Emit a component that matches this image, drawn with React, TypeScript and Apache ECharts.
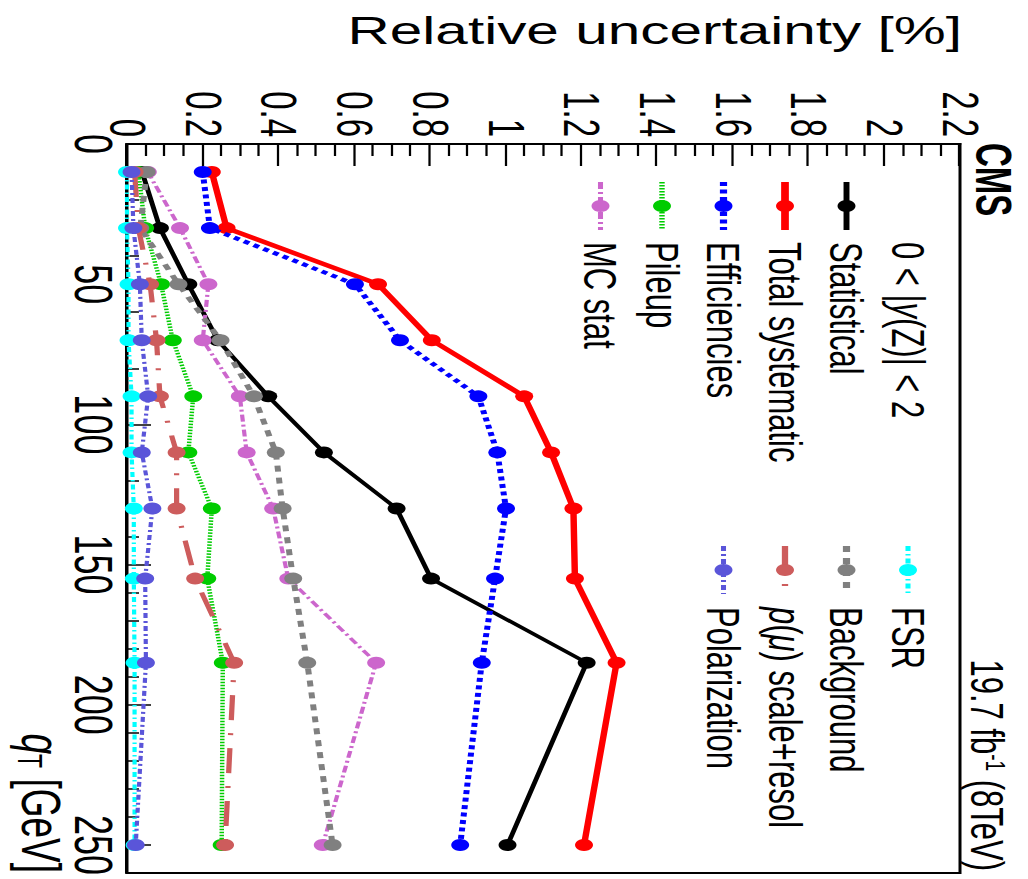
import React, { useEffect, useRef } from 'react';
import * as echarts from 'echarts';

// ---------------- data ----------------
const qT = [10, 30, 50, 70, 90, 110, 130, 155, 185, 250];

const statistical = [0.04, 0.087, 0.162, 0.24, 0.373, 0.52, 0.712, 0.803, 1.214, 1.005];
const totalSystematic = [0.224, 0.263, 0.663, 0.805, 1.049, 1.12, 1.179, 1.183, 1.293, 1.207];
const efficiencies = [0.2, 0.219, 0.602, 0.721, 0.928, 0.978, 1.001, 0.972, 0.937, 0.88];
const pileup = [0.03, 0.048, 0.09, 0.121, 0.175, 0.162, 0.224, 0.212, 0.253, 0.25];
const mcStat = [0.055, 0.14, 0.215, 0.2, 0.298, 0.316, 0.386, 0.426, 0.658, 0.517];
const fsr = [0.0, 0.0, 0.004, 0.004, 0.012, 0.012, 0.018, 0.018, 0.02, 0.02];
const background = [0.052, 0.035, 0.136, 0.247, 0.335, 0.393, 0.411, 0.439, 0.476, 0.543];
const momentumScale = [0.02, 0.03, 0.061, 0.078, 0.087, 0.131, 0.131, 0.18, 0.283, 0.259];
const polarization = [0.012, 0.017, 0.034, 0.039, 0.056, 0.039, 0.067, 0.048, 0.05, 0.023];

const seriesNames = [
  'Statistical',
  'Total systematic',
  'Efficiencies',
  'Pileup',
  'MC stat',
  'FSR',
  'Background',
  'p(μ) scale+resol',
  'Polarization',
];
const legendLabels = [
  'Statistical',
  'Total systematic',
  'Efficiencies',
  'Pileup',
  'MC stat',
  'FSR',
  'Background',
  '{i|p}({i|μ}) scale+resol',
  'Polarization',
];
const seriesValues = [
  statistical,
  totalSystematic,
  efficiencies,
  pileup,
  mcStat,
  fsr,
  background,
  momentumScale,
  polarization,
];

const xTickLabels = ['0', '50', '100', '150', '200', '250'];
const yTickLabels = ['0', '0.2', '0.4', '0.6', '0.8', '1', '1.2', '1.4', '1.6', '1.8', '2', '2.2'];

const headerText = '0 < |{i|y}(Z)| < 2';
const yTitle = 'Relative uncertainty [%]';
const xTitle = '{i|q}{sub|T} [GeV]';
const lumiText = '19.7 fb{sup|-1} (8TeV)';
const cmsText = 'CMS';

// ---------------- styles ----------------
const styles: { color: string; width: number; dash: any }[] = [
  { color: '#000000', width: 3.3, dash: 'solid' },
  { color: '#ff0000', width: 4.3, dash: 'solid' },
  { color: '#0000ff', width: 4, dash: [4, 3.5] },
  { color: '#00cc00', width: 3, dash: [1.5, 1.5] },
  { color: '#cc66cc', width: 2.8, dash: [7, 3, 2, 3] },
  { color: '#00ffff', width: 2.8, dash: [5, 3, 1.5, 3] },
  { color: '#808080', width: 4, dash: [6, 6] },
  { color: '#cd5c5c', width: 3.5, dash: [25, 13, 2, 13] },
  { color: '#5a55d9', width: 2.8, dash: [5, 3, 2, 3] },
];

const STRETCH = 1.5;
const W = 879;
const H = 685;
const FONT = '"Liberation Sans", Arial, Helvetica, sans-serif';

const legendPos = [
  { col: 0, row: 1 },
  { col: 0, row: 2 },
  { col: 0, row: 3 },
  { col: 0, row: 4 },
  { col: 0, row: 5 },
  { col: 1, row: 0 },
  { col: 1, row: 1 },
  { col: 1, row: 2 },
  { col: 1, row: 3 },
];
const legendCols = [
  { x1: 182, x2: 230, tx: 242 },
  { x1: 546, x2: 594, tx: 607 },
];
const rowY = (r: number) => 80 + 41 * r;

function textEl(x: number, y: number, text: string, size: number, align: string, extra: any = {}, rich: any = {}) {
  return {
    type: 'text',
    x,
    y,
    z: 100,
    ...extra,
    style: {
      text,
      fontSize: size,
      fontFamily: FONT,
      fontWeight: extra.fontWeight || 'normal',
      fill: '#000',
      align,
      textAlign: align,
      verticalAlign: 'middle',
      textVerticalAlign: 'middle',
      rich,
    },
  };
}

function buildOption() {
  const series = seriesNames.map((name, i) => ({
    name,
    type: 'line',
    data: qT.map((q, j) => [q, seriesValues[i][j]]),
    symbol: 'circle',
    symbolSize: 12,
    clip: false,
    z: 2 + i,
    lineStyle: { color: styles[i].color, width: styles[i].width, type: styles[i].dash },
    itemStyle: { color: styles[i].color },
    emphasis: { disabled: true },
  }));

  const graphics: any[] = [];
  seriesNames.forEach((name, i) => {
    const p = legendPos[i];
    const c = legendCols[p.col];
    const y = rowY(p.row);
    const st = styles[i];
    graphics.push({
      type: 'line',
      z: 100,
      shape: { x1: c.x1, y1: y, x2: c.x2, y2: y },
      style: {
        stroke: st.color,
        lineWidth: st.width * 1.2,
        lineDash: st.dash === 'solid' ? null : st.dash,
      },
    });
    graphics.push({
      type: 'circle',
      z: 101,
      shape: { cx: (c.x1 + c.x2) / 2, cy: y, r: 6 },
      style: { fill: st.color },
    });
    graphics.push(
      textEl(c.tx, y, legendLabels[i], 31, 'left', {}, {
        i: { fontStyle: 'italic', fontSize: 31, fontFamily: FONT },
      })
    );
  });
  graphics.push(
    textEl(242, rowY(0), headerText, 31, 'left', {}, {
      i: { fontStyle: 'italic', fontSize: 31, fontFamily: FONT },
    })
  );
  graphics.push(textEl(143, 23, cmsText, 33, 'left', { fontWeight: 'bold' }));
  graphics.push(
    textEl(871, 27, lumiText, 31, 'right', {}, {
      sup: { fontSize: 19, fontFamily: FONT, verticalAlign: 'top' },
    })
  );
  graphics.push(
    textEl(873, 658, xTitle, 37, 'right', {}, {
      i: { fontStyle: 'italic', fontSize: 37, fontFamily: FONT },
      sub: { fontSize: 23, fontFamily: FONT, verticalAlign: 'bottom' },
    })
  );
  graphics.push(textEl(31, 44, yTitle, 39, 'right', { rotation: Math.PI / 2 }));

  const y0 = (1028 - 127) / STRETCH;

  return {
    animation: false,
    backgroundColor: '#ffffff',
    grid: {
      left: 144,
      right: W - 873,
      top: (1028 - 960) / STRETCH,
      bottom: H - y0,
      show: true,
      borderColor: '#000',
      borderWidth: 2,
      backgroundColor: 'transparent',
    },
    xAxis: {
      type: 'value',
      min: 0,
      max: 260,
      interval: 50,
      axisLine: { show: true, onZero: false, lineStyle: { color: '#000', width: 2 } },
      axisTick: { show: true, inside: true, length: 16, lineStyle: { color: '#000', width: 1.5 } },
      minorTick: { show: true, splitNumber: 5, length: 8, lineStyle: { color: '#000', width: 1.5 } },
      splitLine: { show: false },
      minorSplitLine: { show: false },
      axisLabel: {
        fontSize: 36,
        fontFamily: FONT,
        color: '#000',
        margin: 4,
        showMaxLabel: false,
        formatter: (v: number) => {
          const idx = Math.round(v / 50);
          return Math.abs(v - idx * 50) < 1e-6 ? xTickLabels[idx] ?? '' : '';
        },
      },
    },
    yAxis: {
      type: 'value',
      min: 0,
      max: 2.2,
      interval: 0.2,
      axisLine: { show: true, onZero: false, lineStyle: { color: '#000', width: 2 } },
      axisTick: { show: true, inside: true, length: 22, lineStyle: { color: '#000', width: 1.5 } },
      minorTick: { show: true, splitNumber: 4, length: 12, lineStyle: { color: '#000', width: 1.5 } },
      splitLine: { show: false },
      minorSplitLine: { show: false },
      axisLabel: {
        fontSize: 33,
        fontFamily: FONT,
        color: '#000',
        margin: 7,
        formatter: (v: number) => yTickLabels[Math.round(v / 0.2)] ?? '',
      },
    },
    series,
    graphic: graphics,
  };
}

export default function App() {
  const ref = useRef<HTMLDivElement>(null);
  useEffect(() => {
    if (!ref.current) return;
    const chart = echarts.init(ref.current, undefined, { renderer: 'svg' });
    chart.setOption(buildOption() as any);
    return () => chart.dispose();
  }, []);
  return (
    <div
      style={{
        position: 'fixed',
        left: 0,
        top: 0,
        width: 1028,
        height: 879,
        overflow: 'hidden',
        background: '#fff',
      }}
    >
      <div
        ref={ref}
        style={{
          position: 'absolute',
          left: 0,
          top: 0,
          width: W,
          height: H,
          transformOrigin: '0 0',
          transform: `translate(1028px, 0px) rotate(90deg) scale(1, ${STRETCH})`,
        }}
      />
    </div>
  );
}
